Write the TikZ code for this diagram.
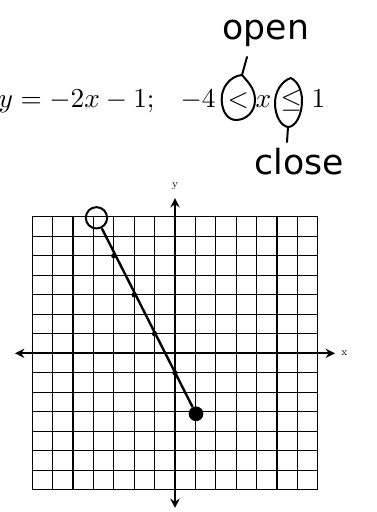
\documentclass[tikz,border=0pt]{standalone}
\usepackage{fontspec}
\newfontfamily\manuscrite{DejaVu Sans}
\usetikzlibrary{arrows.meta}

\tikzset{
  quadrillage/.style={line width=0.8pt},
  axe/.style={line width=1.3pt, {Stealth[length=7pt,width=7pt]}-{Stealth[length=7pt,width=7pt]}},
  segment/.style={line width=1.8pt},
  annot/.style={line width=1.5pt, line cap=round, line join=round},
  manuscrit/.style={font=\manuscrite\fontsize{26}{30}\selectfont, inner sep=0pt},
  formule/.style={scale=2.05, transform shape, inner sep=0pt, anchor=base west},
}

\begin{document}
\begin{tikzpicture}[x=0.75pt, y=0.75pt]
\useasboundingbox (0,0) rectangle (376,512);

% Équation et inégalité
\node[formule] (eq) at (-2,404) {$y=-2x-1;$};
\node[formule] (borne) at (180,404) {$-4$};
\node[formule] (inf) at (227,404) {$<$};
\node[formule] (var) at (255,404) {$x$};
\node[formule] (infeg) at (280,404) {$\leq$};
\node[formule] (sup) at (311,404) {$1$};

% Annotations à la main
\node[manuscrit, anchor=base] (ouvert) at (266,472) {open};
\node[manuscrit, anchor=base] (ferme) at (299,337) {close};

% Goutte autour de <
\coordinate (pointe1) at (242,437);
\coordinate (haut1) at (247,455);
\draw[annot] (pointe1) .. controls (230,436) and (221,424) .. (221.7,412)
  .. controls (222,400) and (228,392) .. (236,392)
  .. controls (246,392) and (255,400) .. (255,412)
  .. controls (255,424) and (247,431) .. (pointe1);
\draw[annot] (pointe1) -- (haut1);

% Goutte autour de <=
\coordinate (pointe2) at (290.7,434);
\coordinate (bas2) at (288,385);
\coordinate (queue2) at (287,370);
\draw[annot] (pointe2) .. controls (282,431) and (275,421) .. (275,409)
  .. controls (275,396) and (281,386) .. (bas2)
  .. controls (296,385) and (302,398) .. (302,411)
  .. controls (302,423) and (297,431) .. (pointe2);
\draw[annot] (bas2) -- (queue2);

% Repère
\begin{scope}[shift={(131.25pt,119pt)}, x=15.3pt, y=14.625pt]
\foreach \i in {-7,...,7} {
  \draw[quadrillage] (\i,-7) -- (\i,7);
  \draw[quadrillage] (-7,\i) -- (7,\i);
}
\draw[axe] (-7.84,0) -- (7.84,0);
\draw[axe] (0,-7.93) -- (0,7.96);
\node[font=\footnotesize] (labx) at (8.3,0) {x};
\node[font=\footnotesize] (laby) at (0,8.55) {y};

% Segment
\node[circle, draw, line width=1.5pt, minimum size=16pt, inner sep=0pt] (ouv) at (-3.85,6.95) {};
\node[circle, fill, minimum size=11pt, inner sep=0pt] (fer) at (1.03,-3.1) {};
\draw[segment] (ouv) -- (fer);
\foreach \k in {-3,...,0}
  \fill (\k,{-2*\k-1}) circle (2pt);
\end{scope}

\end{tikzpicture}
\end{document}
